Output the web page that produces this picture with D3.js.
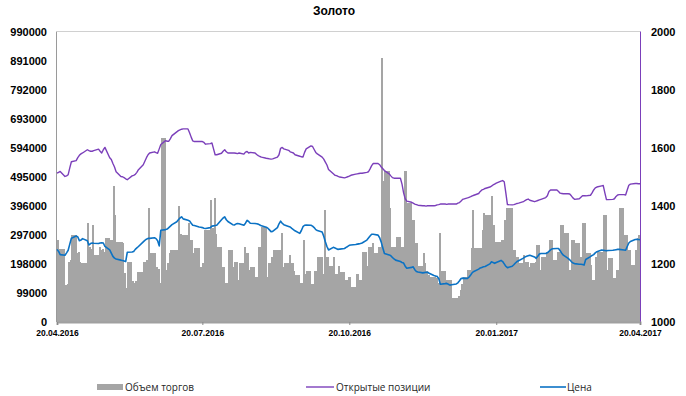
<!DOCTYPE html>
<html>
<head>
<meta charset="utf-8">
<script src="https://cdn.jsdelivr.net/npm/d3@7"></script>
<style>
  html, body { margin: 0; padding: 0; background: #fff; }
  svg { display: block; }
  .tick-lbl { font-family: "Liberation Sans", Arial, sans-serif; font-weight: bold; fill: #000; }
  .legend-lbl { font-family: "Open Sans", "Liberation Sans", sans-serif; font-size: 10px; fill: #262626; }
</style>
</head>
<body>
<svg id="chart" width="686" height="396"></svg>
<script>
// Trading calendar: every weekday from 20.04.2016 to 20.04.2017
const startDate = new Date(2016, 3, 20);
const endDate = new Date(2017, 3, 20);
const dates = d3.timeDay.range(startDate, d3.timeDay.offset(endDate, 1))
  .filter(d => d.getDay() >= 1 && d.getDay() <= 5);

// Daily trading volume (contracts), one row per week
const volume = [
  280000, 250000, 250000,
  126000, 130000, 206000, 210000, 297000,
  235000, 240000, 205000, 200000, 200000,
  338000, 257000, 250000, 331000, 230000,
  257000, 246000, 250000, 240000, 287000,
  280000, 280000, 464000, 365000, 274000,
  274000, 270000, 167000, 116000, 206000,
  140000, 133000, 140000, 172000, 172000,
  206000, 206000, 212000, 389000, 235000,
  235000, 188000, 180000, 133000, 628000,
  177000, 200000, 235000, 246000, 246000,
  246000, 394000, 300000, 297000, 297000,
  338000, 280000, 280000, 235000, 253000,
  188000, 188000, 200000, 314000, 314000,
  416000, 321000, 423000, 300000, 257000,
  188000, 188000, 133000, 133000, 246000,
  188000, 205000, 205000, 143000, 200000,
  257000, 235000, 235000, 177000, 188000,
  155000, 155000, 257000, 257000, 325000,
  155000, 200000, 200000, 223000, 246000,
  246000, 246000, 304000, 189000, 200000,
  230000, 200000, 200000, 175000, 160000,
  133000, 133000, 280000, 165000, 175000,
  130000, 130000, 175000, 175000, 223000,
  165000, 382000, 223000, 223000, 190000,
  223000, 165000, 165000, 190000, 172000,
  143000, 143000, 155000, 155000, 120000,
  165000, 165000, 143000, 143000, 240000,
  190000, 257000, 257000, 270000, 235000,
  257000, 257000, 900000, 479000, 513000,
  389000, 257000, 257000, 257000, 290000,
  257000, 257000, 513000, 513000, 405000,
  348000, 348000, 270000, 270000, 190000,
  235000, 200000, 175000, 160000, 155000,
  155000, 150000, 133000, 304000, 175000,
  143000, 143000, 143000, 143000, 82000,
  82000, 90000, 109000, 130000, 155000,
  177000, 177000, 252000, 382000, 252000,
  252000, 252000, 314000, 372000, 365000,
  365000, 428000, 331000, 274000, 274000,
  280000, 280000, 348000, 389000, 389000,
  246000, 246000, 223000, 223000, 200000,
  229000, 206000, 206000, 189000, 200000,
  206000, 263000, 263000, 177000, 223000,
  240000, 240000, 280000, 280000, 212000,
  240000, 240000, 331000, 331000, 304000,
  177000, 177000, 280000, 280000, 269000,
  223000, 223000, 338000, 338000, 235000,
  195000, 143000, 143000, 223000, 240000,
  240000, 365000, 365000, 177000, 217000,
  150000, 150000, 177000, 177000, 389000,
  297000, 297000, 246000, 246000, 195000,
  246000, 287000, 297000, 297000
];

// Open interest (contracts)
const openInterest = [
  507000, 510000, 513000,
  496000, 498000, 502000, 525000, 546000,
  550000, 560000, 568000, 573000, 576000,
  587000, 584000, 582000, 582000, 584000,
  589000, 582000, 576000, 587000, 595000,
  560000, 554000, 540000, 528000, 512000,
  496000, 495000, 492000, 488000, 485000,
  498000, 500000, 503000, 510000, 519000,
  536000, 548000, 560000, 570000, 576000,
  580000, 577000, 575000, 590000, 605000,
  618000, 616000, 616000, 625000, 635000,
  648000, 652000, 655000, 657000, 658000,
  658000, 645000, 630000, 617000, 615000,
  615000, 615000, 615000, 612000, 606000,
  608000, 610000, 590000, 570000, 570000,
  575000, 582000, 587000, 580000, 576000,
  576000, 576000, 575000, 574000, 576000,
  572000, 579000, 581000, 576000, 578000,
  576000, 571000, 567000, 564000, 562000,
  558000, 557000, 556000, 555000, 556000,
  562000, 570000, 592000, 595000, 590000,
  585000, 580000, 578000, 576000, 570000,
  565000, 563000, 562000, 578000, 590000,
  600000, 598000, 588000, 578000, 573000,
  562000, 555000, 545000, 535000, 520000,
  505000, 500000, 499000, 496000, 494000,
  491000, 493000, 495000, 497000, 500000,
  504000, 505000, 506000, 507000, 507000,
  510000, 512000, 522000, 533000, 540000,
  540000, 536000, 528000, 522000, 516000,
  505000, 498000, 492000, 490000, 490000,
  490000, 470000, 440000, 420000, 412000,
  408000, 405000, 402000, 400000, 398000,
  396000, 396000, 395000, 396000, 396000,
  396000, 397000, 399000, 400000, 402000,
  402000, 401000, 402000, 402000, 402000,
  402000, 405000, 407000, 412000, 418000,
  423000, 425000, 427000, 430000, 432000,
  438000, 445000, 450000, 452000, 455000,
  460000, 463000, 467000, 470000, 473000,
  480000, 482000, 478000, 440000, 400000,
  399000, 400000, 402000, 404000, 405000,
  410000, 414000, 417000, 419000, 415000,
  410000, 412000, 414000, 416000, 418000,
  424000, 430000, 445000, 450000, 450000,
  450000, 445000, 439000, 438000, 437000,
  437000, 436000, 430000, 423000, 418000,
  420000, 425000, 430000, 430000, 430000,
  432000, 440000, 450000, 457000, 460000,
  464000, 465000, 440000, 417000, 417000,
  418000, 420000, 428000, 433000, 434000,
  434000, 433000, 450000, 466000, 470000,
  472000, 472000, 471000, 471000
];

// Price, USD per troy ounce
const price = [
  1250, 1243, 1232,
  1230, 1238, 1247, 1268, 1288,
  1296, 1293, 1280, 1282, 1287,
  1280, 1265, 1270, 1272, 1271,
  1270, 1272, 1273, 1272, 1260,
  1248, 1237, 1226, 1220, 1217,
  1213, 1212, 1210, 1208, 1240,
  1241, 1243, 1250, 1255, 1260,
  1276, 1281, 1285, 1288, 1288,
  1290, 1287, 1280, 1262, 1316,
  1318, 1320, 1325, 1330, 1335,
  1345, 1352, 1358, 1362, 1355,
  1350, 1348, 1340, 1333, 1332,
  1327, 1326, 1325, 1323, 1322,
  1325, 1330, 1331, 1332, 1333,
  1352, 1358, 1362, 1352, 1346,
  1335, 1334, 1337, 1339, 1338,
  1333, 1340, 1350, 1346, 1340,
  1339, 1338, 1337, 1334, 1331,
  1326, 1323, 1317, 1311, 1312,
  1325, 1338, 1347, 1340, 1335,
  1329, 1327, 1322, 1318, 1314,
  1305, 1315, 1328, 1333, 1334,
  1333, 1330, 1325, 1318, 1315,
  1310, 1295, 1276, 1260, 1248,
  1257, 1255, 1252, 1250, 1251,
  1253, 1257, 1260, 1264, 1265,
  1267, 1268, 1269, 1270, 1272,
  1282, 1289, 1296, 1302, 1302,
  1299, 1290, 1275, 1255, 1236,
  1231, 1228, 1222, 1217, 1213,
  1208, 1205, 1203, 1192, 1185,
  1188, 1190, 1180, 1174, 1172,
  1169, 1170, 1171, 1171, 1168,
  1160, 1158, 1157, 1150, 1130,
  1132, 1133, 1130, 1127, 1128,
  1131, 1135, 1142, 1150, 1151,
  1150, 1155, 1162, 1170, 1174,
  1182, 1186, 1188, 1190, 1191,
  1200, 1207, 1205, 1202, 1205,
  1212, 1208, 1200, 1192, 1187,
  1192, 1197, 1203, 1208, 1211,
  1220, 1224, 1226, 1228, 1230,
  1224, 1219, 1226, 1234, 1236,
  1236, 1238, 1243, 1248, 1252,
  1253, 1253, 1245, 1237, 1230,
  1219, 1214, 1208, 1203, 1201,
  1199, 1199, 1198, 1196, 1215,
  1225, 1229, 1232, 1238, 1242,
  1248, 1247, 1246, 1245, 1246,
  1247, 1248, 1249, 1250, 1250,
  1248, 1247, 1260, 1272, 1277,
  1284, 1285, 1284, 1283
];

// Axis ticks
const leftTicks = [0, 99000, 198000, 297000, 396000, 495000, 594000, 693000, 792000, 891000, 990000];
const rightTicks = [1000, 1200, 1400, 1600, 1800, 2000];
const dateTicks = ["20.04.2016", "20.07.2016", "20.10.2016", "20.01.2017", "20.04.2017"];

const title = "Золото";
const seriesNames = ["Объем торгов", "Открытые позиции", "Цена"];
const colors = { volume: "#a5a5a5", oi: "#7b3fba", price: "#0b72c4" };

const rows = dates.map((d, i) => ({ date: d, volume: volume[i], oi: openInterest[i], price: price[i] }));

const svg = d3.select("#chart");
const m = { left: 57, right: 640, top: 31.5, bottom: 322 };

const parseTick = d3.timeParse("%d.%m.%Y");
const x = d3.scaleTime().domain([startDate, endDate]).range([m.left, m.right]);
const yL = d3.scaleLinear().domain([0, 990000]).range([m.bottom, m.top]);
const yR = d3.scaleLinear().domain([1000, 2000]).range([m.bottom, m.top]);

// Title
svg.append("text")
  .attr("x", 334).attr("y", 15)
  .attr("text-anchor", "middle")
  .style("font-family", "'Liberation Sans', Arial, sans-serif")
  .style("font-weight", "bold").style("font-size", "12px")
  .text(title);

// Plot frame
svg.append("line").attr("x1", m.left).attr("x2", m.right).attr("y1", m.top).attr("y2", m.top)
  .attr("stroke", "#d0d0d0").attr("stroke-width", 1);
svg.append("line").attr("x1", m.left - 0.5).attr("x2", m.left - 0.5).attr("y1", m.top).attr("y2", m.bottom)
  .attr("stroke", "#9a9a9a").attr("stroke-width", 1);

// Volume bars: each bar spans from its trading day to the next one
const clip = svg.append("defs").append("clipPath").attr("id", "plot-clip")
  .append("rect").attr("x", m.left).attr("y", 0).attr("width", m.right - m.left).attr("height", m.bottom);

svg.append("g").attr("clip-path", "url(#plot-clip)")
  .selectAll("rect").data(rows).join("rect")
  .attr("x", d => x(d.date))
  .attr("width", (d, i) => {
    const next = i < rows.length - 1 ? x(rows[i + 1].date) : x(d.date) + (x(d3.timeDay.offset(d.date, 1)) - x(d.date));
    return next - x(d.date) + 0.4;
  })
  .attr("y", d => yL(d.volume))
  .attr("height", d => m.bottom - yL(d.volume))
  .attr("fill", colors.volume)
  .attr("shape-rendering", "crispEdges");

// Open interest line (left axis)
svg.append("path").datum(rows)
  .attr("fill", "none").attr("stroke", colors.oi).attr("stroke-width", 1.4)
  .attr("stroke-linejoin", "round")
  .attr("d", d3.line().x(d => x(d.date)).y(d => yL(d.oi)));

// Price line (right axis)
svg.append("path").datum(rows)
  .attr("fill", "none").attr("stroke", colors.price).attr("stroke-width", 1.6)
  .attr("stroke-linejoin", "round")
  .attr("d", d3.line().x(d => x(d.date)).y(d => yR(d.price)));

// Right axis line
svg.append("line").attr("x1", m.right + 0.5).attr("x2", m.right + 0.5).attr("y1", m.top).attr("y2", m.bottom)
  .attr("stroke", colors.oi).attr("stroke-width", 1);

// Bottom axis
const xAxis = d3.axisBottom(x)
  .tickValues(dateTicks.map(parseTick))
  .tickFormat(d3.timeFormat("%d.%m.%Y"))
  .tickSize(3).tickPadding(5);
const gx = svg.append("g").attr("transform", `translate(0,${m.bottom})`).call(xAxis);
gx.select(".domain").attr("stroke", "#a0a0a0").attr("stroke-width", 2);
gx.selectAll(".tick line").attr("stroke", "#8a8a8a");
gx.selectAll("text").attr("class", "tick-lbl").style("font-size", "8.5px");

// Left axis labels
const gl = svg.append("g").attr("transform", `translate(${m.left},0)`)
  .call(d3.axisLeft(yL).tickValues(leftTicks).tickFormat(d3.format("d")).tickSize(0).tickPadding(10));
gl.select(".domain").remove();
gl.selectAll("text").attr("class", "tick-lbl").style("font-size", "11px");

// Right axis labels
const gr = svg.append("g").attr("transform", `translate(${m.right},0)`)
  .call(d3.axisRight(yR).tickValues(rightTicks).tickFormat(d3.format("d")).tickSize(0).tickPadding(11));
gr.select(".domain").remove();
gr.selectAll("text").attr("class", "tick-lbl").style("font-size", "11px");

// Legend
const legend = svg.append("g");
legend.append("rect").attr("x", 97).attr("y", 384).attr("width", 26).attr("height", 6).attr("fill", colors.volume);
legend.append("text").attr("class", "legend-lbl").attr("x", 125).attr("y", 390.5).text(seriesNames[0]);
legend.append("line").attr("x1", 306).attr("x2", 334).attr("y1", 387).attr("y2", 387)
  .attr("stroke", colors.oi).attr("stroke-width", 1.4);
legend.append("text").attr("class", "legend-lbl").attr("x", 336).attr("y", 390.5).text(seriesNames[1]);
legend.append("line").attr("x1", 540).attr("x2", 566).attr("y1", 387).attr("y2", 387)
  .attr("stroke", colors.price).attr("stroke-width", 1.6);
legend.append("text").attr("class", "legend-lbl").attr("x", 567).attr("y", 390.5).text(seriesNames[2]);
</script>
</body>
</html>
